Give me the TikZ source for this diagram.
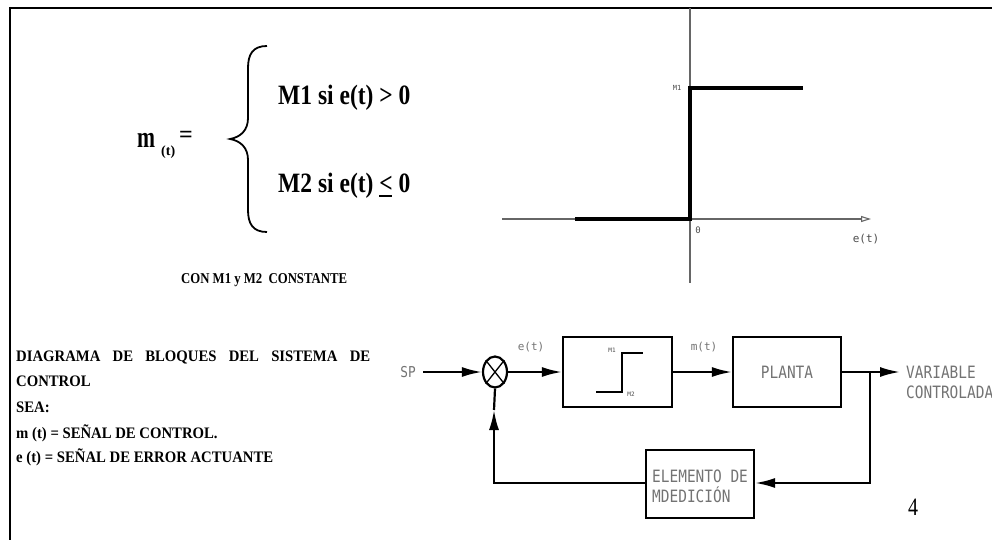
\documentclass[tikz,border=0pt]{standalone}
\usepackage{fontspec}
\usepackage{graphicx}
\setmainfont{Liberation Serif}
\newfontfamily\cadfont{DejaVu Sans Mono}
\usetikzlibrary{shapes.geometric,arrows.meta}
\newcommand{\uless}{\makebox[0pt][l]{\rule[-5pt]{0.52em}{1.8pt}}<}
\newcommand{\cmp}[2]{\scalebox{#1}[1]{#2}}
\tikzset{
  bigtxt/.style={inner sep=0pt,anchor=base west,font=\fontsize{28}{30}\selectfont\bfseries},
  leftxt/.style={inner sep=0pt,anchor=base west,font=\fontsize{16}{18}\selectfont\bfseries},
  cadtxt/.style={inner sep=0pt,text=black!55,font=\fontsize{17}{20}\selectfont\cadfont},
  smallcad/.style={inner sep=0pt,text=black!55,font=\fontsize{11}{12}\selectfont\cadfont},
  tinycad/.style={inner sep=0pt,text=black!70,font=\fontsize{6}{7}\selectfont\cadfont},
  blk/.style={draw,line width=2.2pt,inner sep=0pt,rectangle},
  wire/.style={line width=2.2pt},
  arr/.style={wire,-{Latex[length=20pt,width=10pt]}},
  axis/.style={line width=1.1pt,black!60},
  stepline/.style={line width=3.5pt},
}
\begin{document}
\begin{tikzpicture}[x=1pt,y=-1pt]
\useasboundingbox (0,0) rectangle (992,540);
% frame
\draw[line width=2.6pt] (9,8) -- (992,8);
\draw[line width=2.6pt] (10,7) -- (10,540);

% formula
\node[bigtxt,font=\fontsize{30}{32}\selectfont\bfseries] (m) at (137,148) {\cmp{0.72}{m}};
\node[inner sep=0pt,anchor=base west,font=\fontsize{14}{15}\selectfont\bfseries] (mt) at (161,156) {(t)};
\node[bigtxt,font=\fontsize{24}{26}\selectfont\bfseries] (eq) at (179,143) {=};
\draw[line width=1.8pt] (267,46) .. controls (253,46) and (248,54) .. (248,68) -- (248,118)
  .. controls (248,130) and (241,137) .. (230,139)
  .. controls (241,141) and (248,148) .. (248,160) -- (248,210)
  .. controls (248,224) and (253,232) .. (267,232);
\node[bigtxt] (c1) at (278,105) {\cmp{0.84}{M1 si e(t) > 0}};
\node[bigtxt] (c2) at (278,192) {\cmp{0.84}{M2 si e(t) \uless\ 0}};
\node[leftxt,font=\fontsize{15}{16}\selectfont\bfseries] (cons) at (181,283) {\cmp{0.85}{CON M1 y M2\ \ CONSTANTE}};

% characteristic graph
\coordinate (ytop) at (690,8);
\coordinate (ybot) at (690,283);
\coordinate (xl) at (502,219);
\coordinate (xr) at (871,219);
\draw[axis] (ytop) -- (ybot);
\draw[axis,-{Triangle[open,length=10pt,width=6pt]}] (xl) -- (xr);
\coordinate (s0) at (575,219);
\coordinate (s1) at (690,219);
\coordinate (s2) at (690,88);
\coordinate (s3) at (803,88);
\draw[stepline] (s0) -- (s1) -- (s2) -- (s3);
\node[tinycad,font=\fontsize{7}{8}\selectfont\cadfont] (gm1) at (677,88) {M1};
\node[tinycad,font=\fontsize{9}{10}\selectfont\cadfont] (g0) at (698,230) {0};
\node[smallcad,text=black!70] (get) at (866,239) {e(t)};

% left text
\node[leftxt] (t1) at (16,361) {\makebox[354pt][s]{\cmp{0.92}{DIAGRAMA}\ \ \cmp{0.92}{DE}\ \ \cmp{0.92}{BLOQUES}\ \ \cmp{0.92}{DEL}\ \ \cmp{0.92}{SISTEMA}\ \ \cmp{0.92}{DE}}};
\node[leftxt] (t2) at (16,386) {\cmp{0.92}{CONTROL}};
\node[leftxt] (t3) at (16,412) {\cmp{0.92}{SEA:}};
\node[leftxt] (t4) at (16,438) {\cmp{0.92}{m (t) = SEÑAL DE CONTROL.}};
\node[leftxt] (t5) at (16,462) {\cmp{0.92}{e (t) = SEÑAL DE ERROR ACTUANTE}};

% block diagram
\node[cadtxt,font=\fontsize{15}{16}\selectfont\cadfont] (sp) at (408,372) {\cmp{0.85}{SP}};
\node[draw,ellipse,line width=2.2pt,minimum width=24pt,minimum height=31pt,inner sep=0pt] (sum) at (495,372) {};
\draw[line width=1.3pt] (sum.north east) -- (sum.south west);
\draw[line width=1.3pt] (sum.north west) -- (sum.south east);
\node[blk,minimum width=109pt,minimum height=70pt] (ctrl) at (617.5,372) {};
\node[blk,minimum width=108pt,minimum height=70pt] (plant) at (787,372) {};
\node[cadtxt] (plabel) at (plant.center) {\cmp{0.85}{PLANTA}};
\node[blk,minimum width=108pt,minimum height=68pt] (meas) at (700,484) {};
\node[cadtxt,align=left,anchor=west] (mlabel) at (652,486) {\cmp{0.85}{ELEMENTO DE}\\\cmp{0.85}{MDEDICIÓN}};

% small step in controller
\coordinate (k0) at (596,392);
\coordinate (k1) at (622,392);
\coordinate (k2) at (622,353);
\coordinate (k3) at (643,353);
\draw[line width=1.8pt] (k0) -- (k1) -- (k2) -- (k3);
\node[tinycad] (km1) at (612,350) {M1};
\node[tinycad] (km2) at (631,394) {M2};

\node[smallcad] (et) at (531,347) {e(t)};
\node[smallcad] (mtl) at (704,347) {m(t)};

\coordinate (spend) at (423,372);
\draw[arr] (spend) -- (sum.west);
\draw[arr] (sum.east) -- (ctrl.west);
\draw[arr] (ctrl.east) -- (plant.west);
\coordinate (branch) at (870,372);
\coordinate (outtip) at (900,372);
\draw[arr] (plant.east) -- (outtip);
\node[cadtxt,align=left,anchor=west] (var) at (906,382) {\cmp{0.85}{VARIABLE}\\\cmp{0.85}{CONTROLADA}};
\coordinate (bcorner) at (870,483);
\draw[arr] (branch) -- (bcorner) -- (meas.east |- bcorner);
\coordinate (fcorner) at (494,483);
\coordinate (ftip) at (494,410);
\draw[arr] (meas.west |- fcorner) -- (fcorner) -- (ftip);
\draw[wire] (ftip) -- (sum.south);

\node[inner sep=0pt,font=\fontsize{25}{26}\selectfont] (pg) at (913,507) {\cmp{0.8}{4}};
\end{tikzpicture}
\end{document}
